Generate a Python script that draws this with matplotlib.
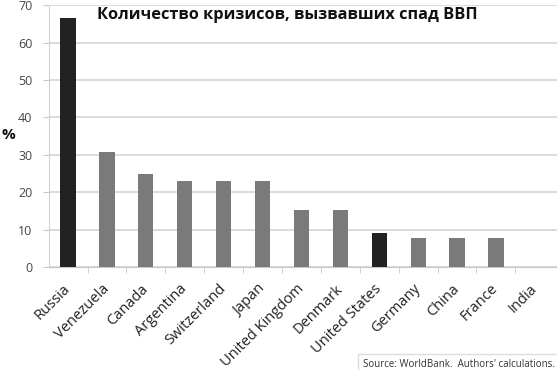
import numpy as np
import matplotlib
matplotlib.use("Agg")
import matplotlib.pyplot as plt
from matplotlib.ticker import FixedLocator
from matplotlib.patches import Rectangle

countries = ["Russia", "Venezuela", "Canada", "Argentina", "Switzerland", "Japan",
             "United Kingdom", "Denmark", "United States", "Germany", "China",
             "France", "India"]
shares = [66.7, 30.8, 25.0, 23.1, 23.1, 23.1, 15.4, 15.4, 9.1, 7.7, 7.7, 7.7, 0.0]
highlight = ["Russia", "United States"]

plt.rcParams['font.family'] = ['Open Sans', 'DejaVu Sans']

fig = plt.figure(figsize=(5.57, 3.70), dpi=100)
ax = fig.add_axes([0.088, 0.278, 0.912, 0.708])

x = np.arange(len(countries))
colors = ['#222222' if c in highlight else '#7a7a7a' for c in countries]
ax.bar(x, shares, width=0.39, color=colors, zorder=3)

ax.set_xlim(-0.49, 12.57)
ax.set_ylim(0, 70)
ax.set_yticks(range(0, 71, 10))
ax.yaxis.grid(True, color='#d4d4d4', linewidth=1.2, zorder=0)
ax.set_xticks(x)
ax.set_xticklabels(countries, rotation=45, ha='right', va='center',
                   rotation_mode='anchor', fontsize=10.5, color='#222222')
ax.xaxis.set_minor_locator(FixedLocator(x[:-1] + 0.5))
ax.tick_params(axis='x', which='major', length=0, pad=14)
ax.tick_params(axis='x', which='minor', length=4, color='#c8c8c8')
ax.tick_params(axis='y', length=4, color='#c8c8c8', labelsize=9, labelcolor='#444444', pad=8)

for s in ['top', 'right']:
    ax.spines[s].set_visible(False)
ax.spines['left'].set_color('#d0d0d0')
ax.spines['bottom'].set_color('#c8c8c8')

ax.text(0.745, 67.3, "Количество кризисов, вызвавших спад ВВП", fontsize=11.8,
        fontweight='bold', color='#111111', va='center', ha='left')
fig.text(0.002, 0.635, "%", fontsize=11, fontweight='bold', color='#111111', va='center')

# source box in the bottom right corner
fig.patches.append(Rectangle((0.643, -0.01), 0.37, 0.053, transform=fig.transFigure,
                             fill=False, edgecolor='#dddddd', linewidth=1))
fig.text(0.997, 0.0, "Source: WorldBank.  Authors' calculations.", fontsize=7,
         color='#333333', ha='right', va='bottom')

fig.savefig("out.png", dpi=100)
